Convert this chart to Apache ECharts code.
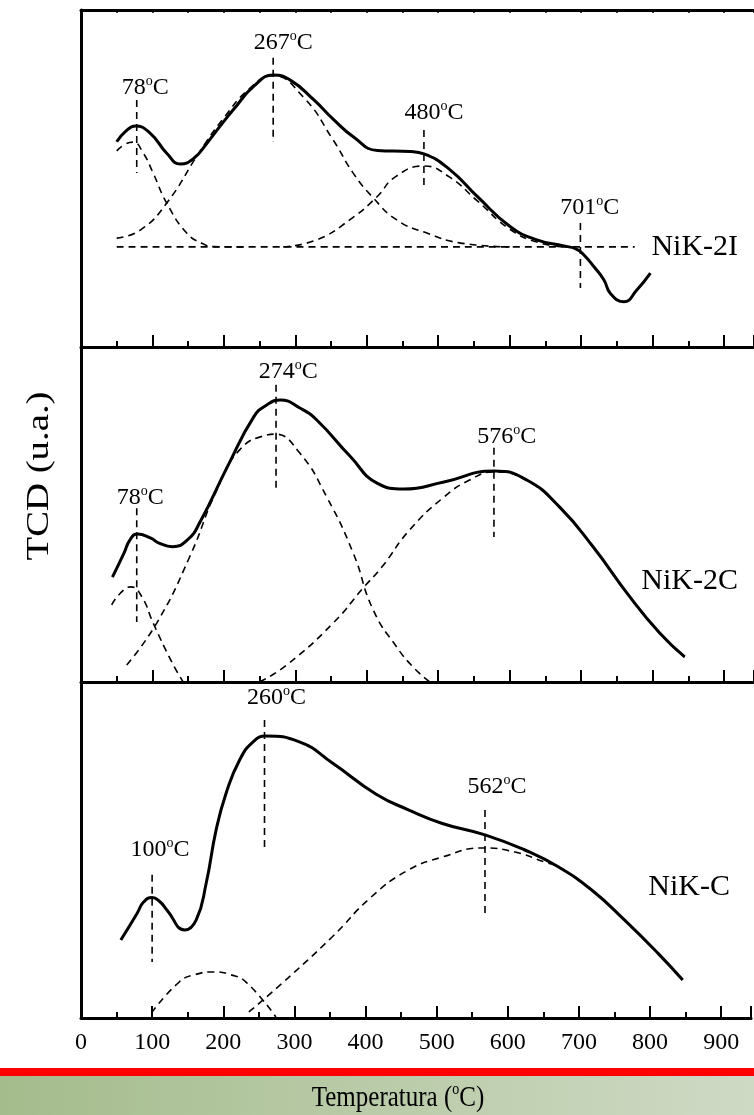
<!DOCTYPE html>
<html>
<head>
<meta charset="utf-8">
<script src="https://cdn.jsdelivr.net/npm/echarts/dist/echarts.min.js"></script>
<style>
html, body { margin: 0; padding: 0; background: #fff; }
#main { width: 754px; height: 1115px; }
</style>
</head>
<body>
<div id="main"></div>
<script>
// temperaturas en x, señal TCD (escala 0-100 por panel) en y
var xTicks = [0, 100, 200, 300, 400, 500, 600, 700, 800, 900];

// panel 1: NiK-2I
var p1Sum = [[50, 60.9], [62, 63.9], [76, 65.6], [97, 63.4], [120, 57.5], [139, 54.3], [158, 56.0], [176, 60.4],
    [195, 65.6], [214, 70.6], [242, 77.4], [269, 80.7], [293, 79.2], [326, 73.3], [354, 67.4], [381, 62.4],
    [415, 58.3], [461, 58.0], [480, 57.3], [517, 52.5], [555, 44.6], [601, 35.7], [638, 31.8], [676, 30.0],
    [694, 29.0], [704, 27.3], [718, 23.8], [732, 19.9], [741, 15.9], [760, 13.4], [778, 16.9], [797, 21.9]];
var p1Peak78 = [[50, 58.2], [62, 60.2], [73, 60.8], [87, 57.6], [101, 51.6], [120, 42.7], [148, 33.8],
    [170, 30.7], [185, 29.8], [230, 29.7]];
var p1Peak267 = [[50, 32.3], [83, 34.7], [120, 42.7], [166, 57.9], [200, 68.0], [235, 76.5], [268, 80.5],
    [311, 74.2], [353, 61.4], [381, 51.6], [408, 44.5], [442, 37.7], [484, 33.8], [530, 30.9], [600, 29.7]];
var p1Peak480 = [[283, 29.7], [330, 31.8], [376, 37.7], [414, 44.5], [440, 50.5], [480, 53.7], [516, 50.4],
    [554, 43.5], [600, 35.0], [640, 31.0], [680, 29.7]];
var p1Base = [[50, 29.7], [775, 29.7]];
var p1Marks = [[78, 73.3, 51.6], [269, 85.8, 60.8], [480, 64.4, 48.1], [699, 36.8, 17.5]];
var p1Labels = [[90, 76.9, '78'], [283, 90.2, '267'], [494, 69.4, '480'], [712, 41.2, '701']];

// panel 2: NiK-2C
var p2Sum = [[44, 31.3], [60, 38.4], [69, 42.6], [79, 44.2], [97, 43.0], [110, 41.4], [128, 40.4], [149, 42.4],
    [167, 47.9], [205, 64.3], [242, 79.2], [260, 82.7], [279, 84.2], [307, 81.7], [330, 78.2], [377, 67.3],
    [415, 59.3], [452, 57.6], [508, 59.7], [578, 63.0], [624, 60.3], [670, 52.2], [717, 40.3], [764, 26.6],
    [810, 14.6], [845, 7.5]];
var p2Peak78 = [[43, 23.0], [55, 26.5], [70, 28.4], [85, 25.5], [101, 17.6], [127, 6.0], [143, 0]];
var p2Peak274 = [[64, 5.1], [106, 17.6], [152, 37.3], [190, 57.3], [222, 69.3], [260, 73.7], [271, 74.0],
    [306, 68.4], [344, 55.2], [381, 38.5], [409, 21.5], [442, 10.4], [466, 4.2], [488, 0]];
var p2Peak576 = [[250, 0], [288, 5.1], [353, 17.6], [395, 28.1], [421, 34.3], [460, 45.4], [508, 55.2],
    [544, 60.3], [578, 62.7], [624, 60.1], [670, 52.0], [717, 40.2], [764, 26.5], [810, 14.5], [845, 7.4]];
var p2Marks = [[78, 51.9, 17.9], [273, 88.7, 57.9], [578, 69.9, 43.3]];
var p2Labels = [[83, 54.9, '78'], [290, 92.5, '274'], [596, 73.1, '576']];

// panel 3: NiK-C
var p3Sum = [[56, 23.2], [79, 31.2], [88, 34.5], [100, 35.9], [111, 34.6], [121, 32.1], [146, 26.2], [162, 29.2],
    [176, 40.1], [190, 56.0], [204, 66.9], [223, 76.8], [242, 82.2], [260, 83.9], [307, 82.2], [354, 75.8],
    [415, 66.6], [461, 61.9], [508, 57.9], [568, 54.5], [624, 50.0], [671, 45.0], [718, 38.1], [764, 29.2],
    [811, 19.3], [846, 11.3]];
var p3Peak190 = [[99, 1.5], [138, 10.7], [160, 12.9], [187, 13.7], [210, 12.9], [232, 10.7], [274, 0.3]];
var p3Peak562 = [[236, 1.8], [283, 10.4], [353, 24.1], [408, 36.0], [460, 44.0], [508, 47.9], [564, 50.6],
    [610, 49.4], [652, 46.4], [671, 45.0], [718, 38.1], [764, 29.2], [811, 19.3], [846, 11.3]];
var p3Marks = [[100, 42.6, 16.7], [258, 88.7, 49.4], [568, 61.9, 30.7]];
var p3Labels = [[111, 50.0, '100'], [275, 95.2, '260'], [585, 68.8, '562']];

var sampleNames = [[859, 29.7, 'NiK-2I'], [852, 30.1, 'NiK-2C'], [855, 39.0, 'NiK-C']];

var FONT = 'Liberation Serif';
var grids = [
    { left: 81, right: 0, top: 10, height: 337 },
    { left: 81, right: 0, top: 347, height: 335 },
    { left: 81, right: 0, top: 682, height: 336 }
];

function curve(g, data, dashed) {
    return {
        type: 'line', xAxisIndex: g, yAxisIndex: g, data: data, smooth: 0.5,
        symbol: 'none', silent: true,
        lineStyle: { color: '#000', width: dashed ? 1.6 : 3, type: dashed ? [7, 5] : 'solid' }
    };
}

function markers(g, list) {
    return list.map(function (m) {
        return {
            type: 'line', xAxisIndex: g, yAxisIndex: g, symbol: 'none', silent: true,
            data: [[m[0], m[1]], [m[0], m[2]]],
            lineStyle: { color: '#000', width: 1.6, type: [7, 5] }
        };
    });
}

function labels(g, list) {
    return {
        type: 'scatter', xAxisIndex: g, yAxisIndex: g, symbolSize: 0, silent: true,
        itemStyle: { opacity: 1 },
        data: list,
        label: {
            show: true, position: 'inside', color: '#000', opacity: 1,
            formatter: function (p) { return '{t|' + p.data[2] + '}{s|o}{t|C}'; },
            rich: {
                t: { fontFamily: FONT, fontSize: 24, lineHeight: 28, color: '#000' },
                s: { fontFamily: FONT, fontSize: 14, lineHeight: 14, verticalAlign: 'top', color: '#000' }
            }
        }
    };
}

function nameLabel(g, item) {
    return {
        type: 'scatter', xAxisIndex: g, yAxisIndex: g, symbolSize: 0, silent: true,
        itemStyle: { opacity: 1 },
        data: [item],
        label: {
            show: true, position: 'inside', color: '#000', opacity: 1, fontFamily: FONT, fontSize: 30,
            formatter: function (p) { return p.data[2]; }
        }
    };
}

var xAxes = grids.map(function (gr, i) {
    return {
        gridIndex: i, type: 'value', min: 0, max: 942, interval: 100, position: 'bottom',
        axisLine: { onZero: false, lineStyle: { color: '#000', width: 3 } },
        axisTick: { inside: true, length: 12, lineStyle: { color: '#000', width: 2 } },
        minorTick: { show: true, splitNumber: 2, length: 6, lineStyle: { color: '#000', width: 2 } },
        splitLine: { show: false },
        axisLabel: {
            show: i === 2, margin: 13, color: '#000', fontFamily: FONT, fontSize: 24,
            formatter: function (v) { return xTicks.indexOf(v) >= 0 ? String(v) : ''; }
        }
    };
});
// borde superior del primer panel
xAxes.push({
    gridIndex: 0, type: 'value', min: 0, max: 942, interval: 100, position: 'top',
    axisLine: { onZero: false, lineStyle: { color: '#000', width: 3 } },
    axisTick: { inside: true, length: 3, lineStyle: { color: '#000', width: 1.5 } },
    minorTick: { show: true, splitNumber: 2, length: 3, lineStyle: { color: '#000', width: 1.5 } },
    splitLine: { show: false }, axisLabel: { show: false }
});

var yAxes = grids.map(function (gr, i) {
    return {
        gridIndex: i, type: 'value', min: 0, max: 100,
        axisLine: { show: true, onZero: false, lineStyle: { color: '#000', width: 3 } },
        axisTick: { show: false }, axisLabel: { show: false }, splitLine: { show: false }
    };
});

var series = [];
series.push(curve(0, p1Base, true), curve(0, p1Peak78, true), curve(0, p1Peak267, true), curve(0, p1Peak480, true), curve(0, p1Sum, false));
series = series.concat(markers(0, p1Marks));
series.push(labels(0, p1Labels), nameLabel(0, sampleNames[0]));

series.push(curve(1, p2Peak78, true), curve(1, p2Peak274, true), curve(1, p2Peak576, true), curve(1, p2Sum, false));
series = series.concat(markers(1, p2Marks));
series.push(labels(1, p2Labels), nameLabel(1, sampleNames[1]));

series.push(curve(2, p3Peak190, true), curve(2, p3Peak562, true), curve(2, p3Sum, false));
series = series.concat(markers(2, p3Marks));
series.push(labels(2, p3Labels), nameLabel(2, sampleNames[2]));

var chart = echarts.init(document.getElementById('main'), null, { renderer: 'canvas' });
chart.setOption({
    animation: false,
    backgroundColor: '#fff',
    grid: grids,
    xAxis: xAxes,
    yAxis: yAxes,
    series: series,
    graphic: [
        {
            type: 'text', x: 40, y: 476, rotation: Math.PI / 2, scaleX: 1.25,
            style: { text: 'TCD (u.a.)', fill: '#000', font: '31px "Liberation Serif"', align: 'center', verticalAlign: 'middle' }
        },
        { type: 'rect', shape: { x: 0, y: 1068, width: 754, height: 8 }, style: { fill: '#ff0000' } },
        {
            type: 'rect', shape: { x: 0, y: 1076, width: 754, height: 39 },
            style: {
                fill: new echarts.graphic.LinearGradient(0, 0, 1, 0, [
                    { offset: 0, color: '#a4bc8c' }, { offset: 1, color: '#cfdac5' }
                ])
            }
        },
        {
            type: 'text', x: 398, y: 1098, scaleY: 1.2,
            style: {
                text: '{t|Temperatura (}{s|o}{t|C)}', align: 'center', verticalAlign: 'middle',
                rich: {
                    t: { fontFamily: FONT, fontSize: 25, lineHeight: 28, fill: '#000' },
                    s: { fontFamily: FONT, fontSize: 14, lineHeight: 14, verticalAlign: 'top', fill: '#000' }
                }
            }
        }
    ]
});
</script>
</body>
</html>
